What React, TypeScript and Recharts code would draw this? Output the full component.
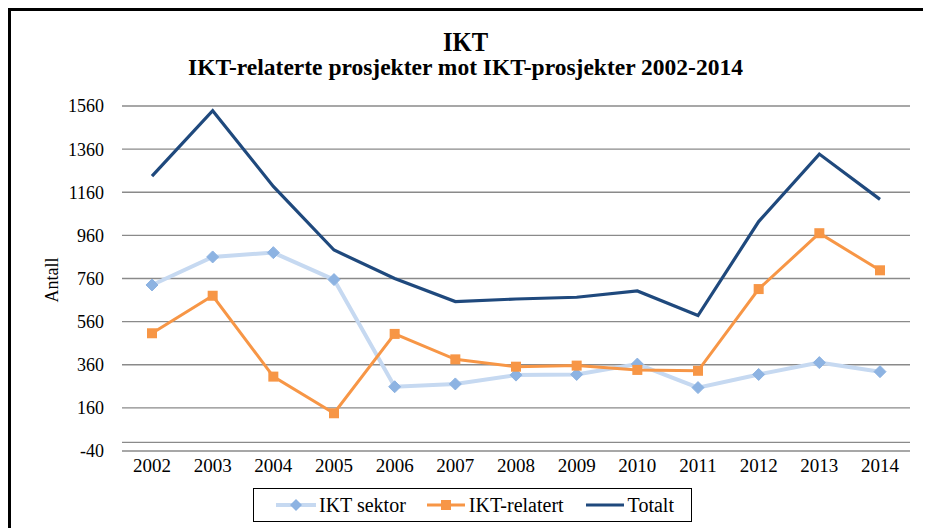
import React from 'react';
import { LineChart, Line, XAxis, YAxis, CartesianGrid, ReferenceLine } from 'recharts';

const years = ['2002','2003','2004','2005','2006','2007','2008','2009','2010','2011','2012','2013','2014'];
const iktSektor = [730, 860, 880, 755, 258, 271, 312, 315, 363, 254, 315, 370, 328];
const iktRelatert = [506, 680, 305, 135, 503, 385, 351, 356, 336, 332, 711, 970, 798];
const totalt = [1235, 1538, 1187, 892, 760, 653, 665, 673, 702, 588, 1024, 1337, 1127];
const yTicks = [-40, 160, 360, 560, 760, 960, 1160, 1360, 1560];

const data = years.map((y, i) => ({ year: y, sektor: iktSektor[i], relatert: iktRelatert[i], totalt: totalt[i] }));

const FONT = '"Liberation Serif", "Times New Roman", serif';
const C_TOT = '#1F497D';
const C_REL = '#F79646';
const C_SEK_LINE = '#C6D9F1';
const C_SEK_DOT = '#8DB3E2';

const Diamond = (props: any) => {
  const { cx, cy } = props;
  if (cx == null || cy == null) return null;
  const r = 6;
  return <polygon points={`${cx},${cy - r} ${cx + r},${cy} ${cx},${cy + r} ${cx - r},${cy}`} fill={C_SEK_DOT} stroke={C_SEK_DOT} strokeWidth={1} />;
};
const Square = (props: any) => {
  const { cx, cy } = props;
  if (cx == null || cy == null) return null;
  const s = 10;
  return <rect x={cx - s / 2} y={cy - s / 2} width={s} height={s} fill={C_REL} />;
};

const tickStyle = { fontFamily: FONT, fontSize: 18, fill: '#000', style: { fontFamily: FONT } };

export default function App() {
  return (
    <div style={{ position: 'relative', width: 923, height: 520, overflow: 'hidden', fontFamily: FONT }}>
      <div style={{ position: 'absolute', left: 0, top: 0, width: 960, height: 560, borderTop: '3px solid #000', borderLeft: '3px solid #000', boxSizing: 'border-box' }} />
      <div style={{ position: 'absolute', left: -8, top: -8 }}>
        <LineChart width={931} height={528} data={data} margin={{ top: 106, right: 21, bottom: 47, left: 62 }} style={{ fontFamily: FONT }}>
          <CartesianGrid vertical={false} stroke="#8a8a8a" strokeWidth={1.3} />
          <XAxis dataKey="year" axisLine={false} tickLine={false} tickSize={0} tickMargin={8} height={30}
            padding={{ left: 30, right: 30 }} tick={{ ...tickStyle, fontSize: 19 }} interval={0} />
          <YAxis width={60} domain={[-40, 1560]} ticks={yTicks} type="number" axisLine={false} tickLine={false}
            tickSize={0} tickMargin={18} tick={tickStyle} interval={0} />
          <ReferenceLine y={0} stroke="#8a8a8a" strokeWidth={1.3} />
          <Line dataKey="sektor" stroke={C_SEK_LINE} strokeWidth={4} dot={<Diamond />} isAnimationActive={false} />
          <Line dataKey="relatert" stroke={C_REL} strokeWidth={3} dot={<Square />} isAnimationActive={false} />
          <Line dataKey="totalt" stroke={C_TOT} strokeWidth={3.2} dot={false} isAnimationActive={false} />
        </LineChart>
      </div>
      <div style={{ position: 'absolute', left: -8, top: 21.5, width: 931, textAlign: 'center', fontWeight: 'bold', fontSize: 28, lineHeight: '24px', height: 24, color: '#000', transform: 'scaleX(0.88)' }}>IKT</div>
      <div style={{ position: 'absolute', left: -8, top: 47, width: 931, textAlign: 'center', fontWeight: 'bold', fontSize: 23.5, lineHeight: '24px', height: 24, color: '#000' }}>IKT-relaterte prosjekter mot IKT-prosjekter 2002-2014</div>
      <div style={{ position: 'absolute', left: 51.5 - 8 - 40, top: 280 - 8 - 12, width: 80, height: 24, lineHeight: '24px', textAlign: 'center', fontSize: 18, transform: 'rotate(-90deg)', color: '#000' }}>Antall</div>
      <div style={{ position: 'absolute', left: 253 - 8, top: 488 - 8, width: 439, height: 34, border: '1px solid #000', boxSizing: 'border-box', display: 'flex', alignItems: 'center', fontSize: 20, color: '#000', whiteSpace: 'nowrap' }}>
        <svg width={44} height={14} style={{ marginLeft: 20, flexShrink: 0 }}>
          <line x1={2} y1={7} x2={42} y2={7} stroke={C_SEK_LINE} strokeWidth={4} />
          <polygon points="22,1 28,7 22,13 16,7" fill={C_SEK_DOT} />
        </svg>
        <span style={{ marginLeft: 1 }}>IKT sektor</span>
        <svg width={42} height={14} style={{ marginLeft: 19, flexShrink: 0 }}>
          <line x1={2} y1={7} x2={40} y2={7} stroke={C_REL} strokeWidth={3} />
          <rect x={16} y={2} width={10} height={10} fill={C_REL} />
        </svg>
        <span style={{ marginLeft: 2 }}>IKT-relatert</span>
        <svg width={42} height={14} style={{ marginLeft: 20, flexShrink: 0 }}>
          <line x1={2} y1={7} x2={40} y2={7} stroke={C_TOT} strokeWidth={3.2} />
        </svg>
        <span style={{ marginLeft: 2 }}>Totalt</span>
      </div>
    </div>
  );
}
